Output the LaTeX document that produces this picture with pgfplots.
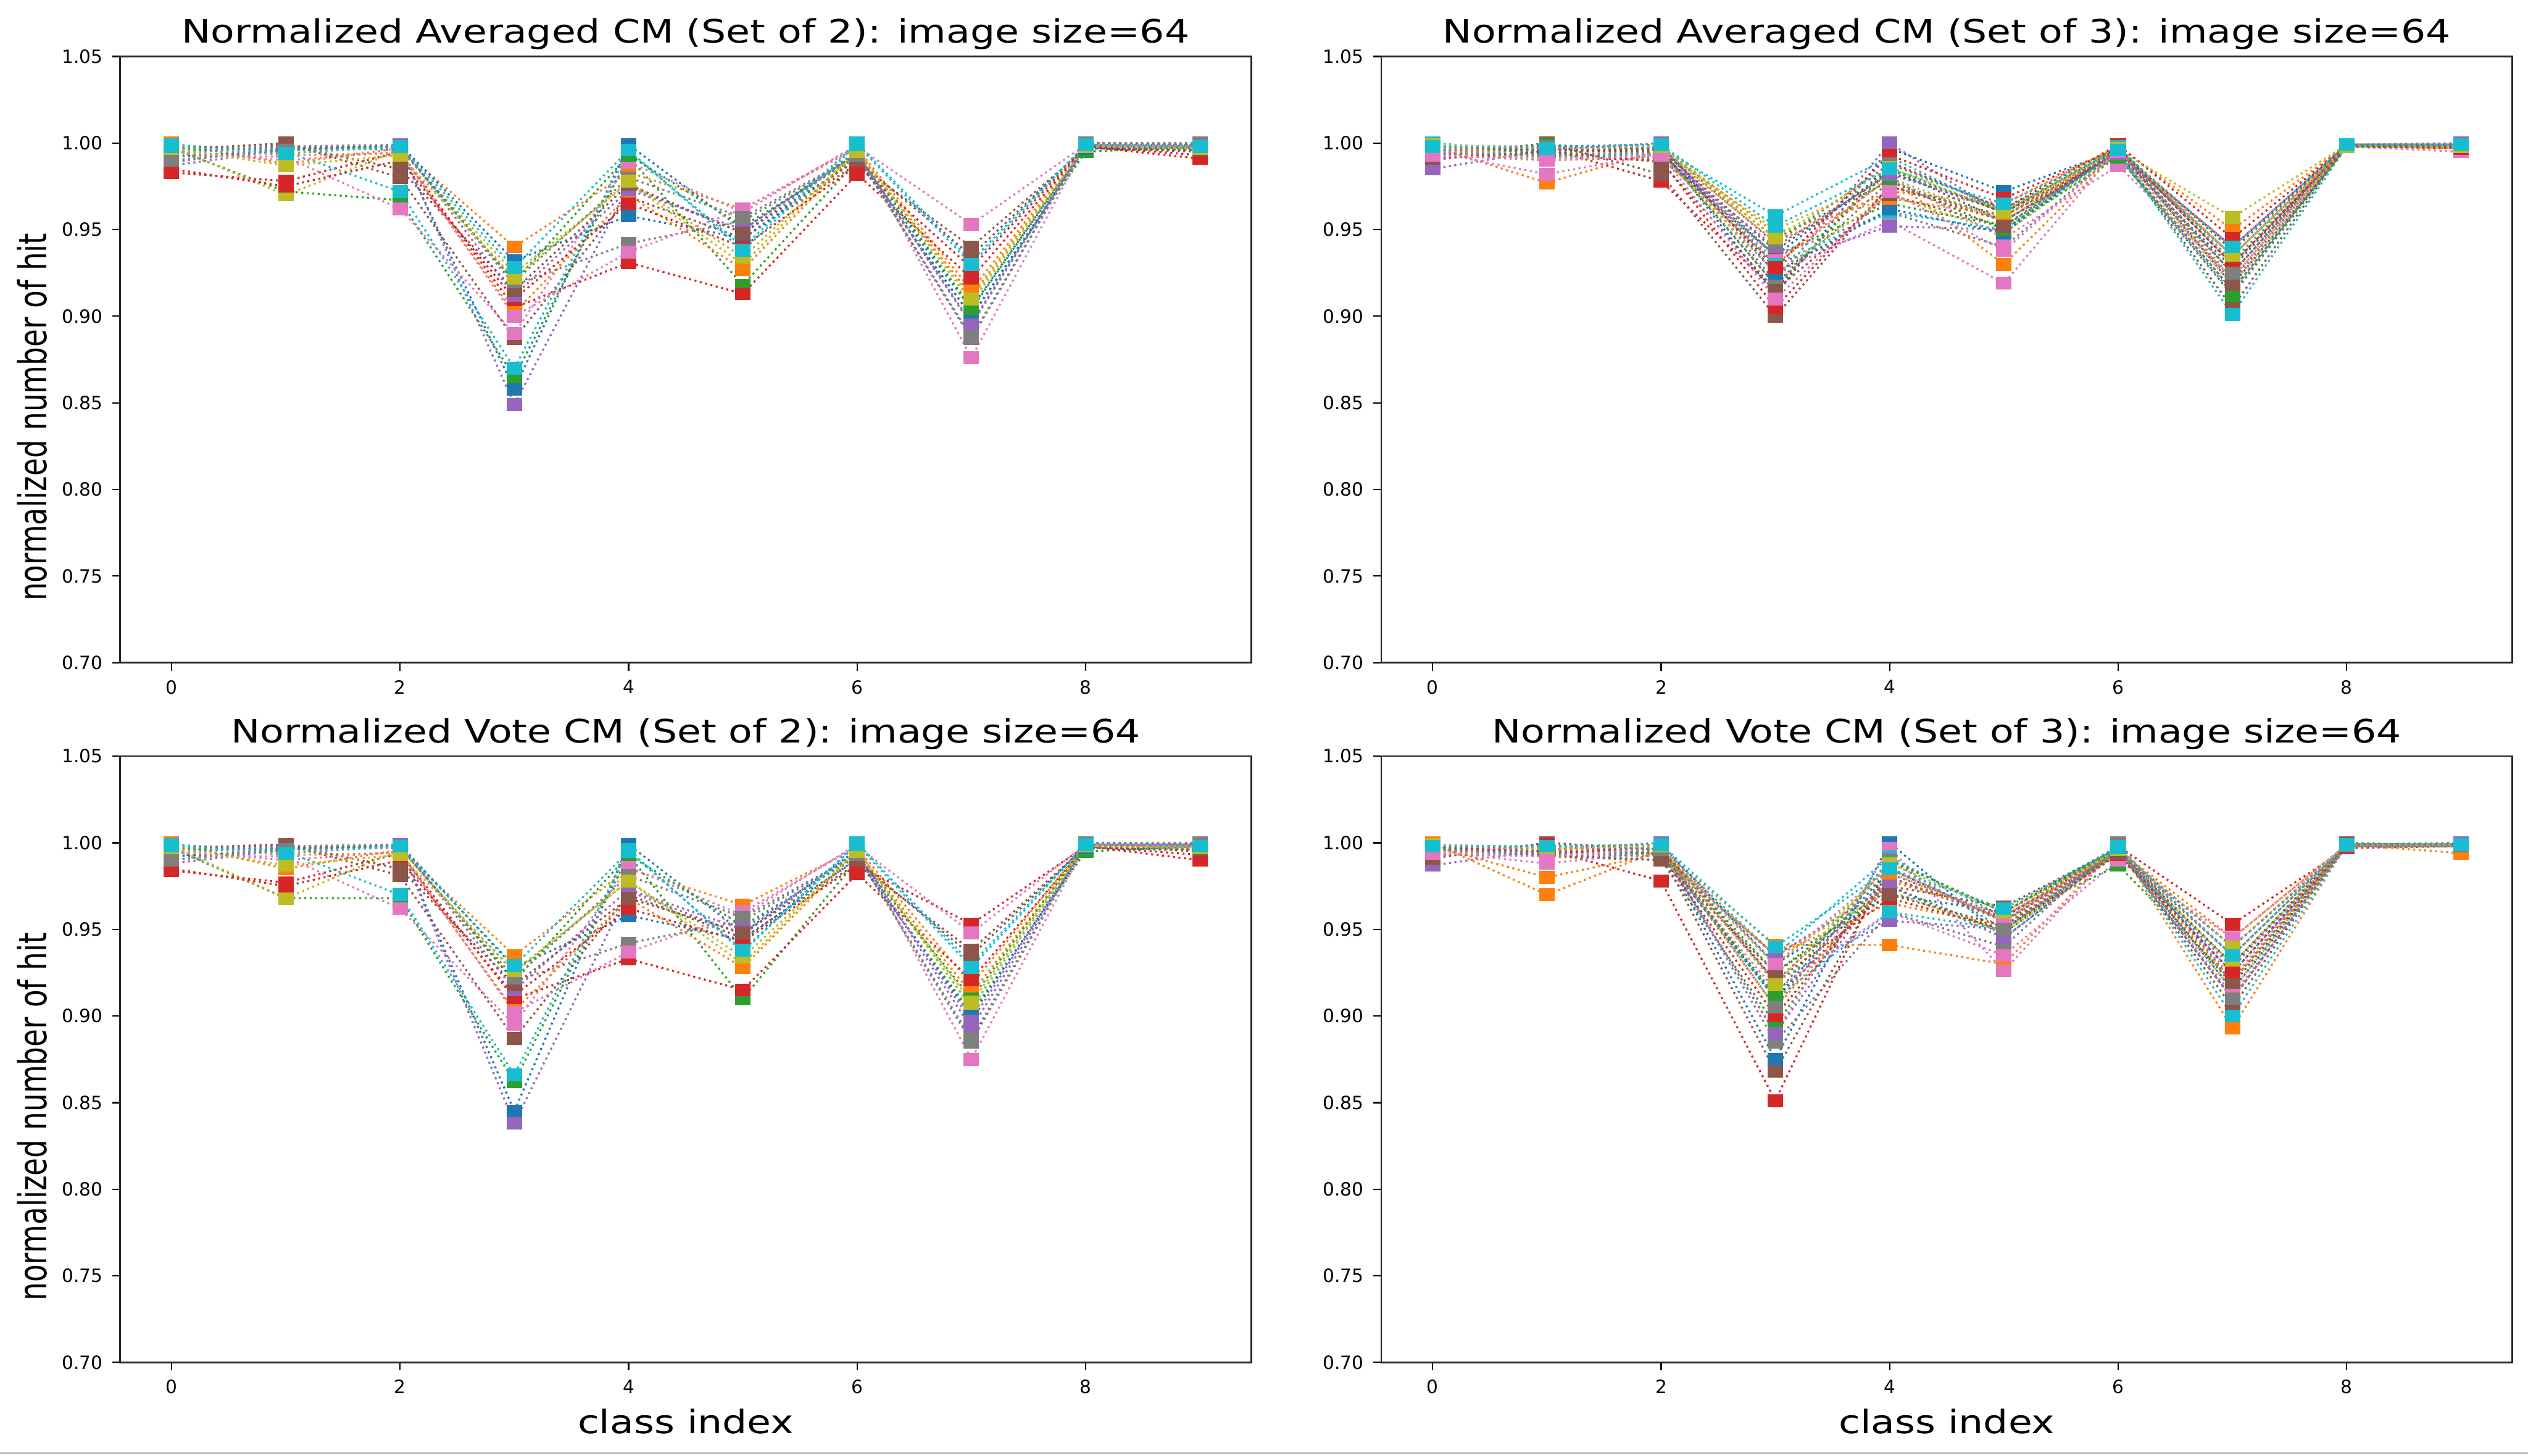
\documentclass[border=0pt]{standalone}
\usepackage{pgfplots}
\usepackage{pgfplotstable}
\pgfplotsset{compat=1.18}
\usepackage{fontspec}
\setmainfont{DejaVu Sans}
% the figure is stretched sideways, so the text is too
\newfontfamily\hfont[FakeStretch=1.21]{DejaVu Sans}
\newfontfamily\vfont[FakeStretch=0.75]{DejaVu Sans}

\definecolor{tabblue}{HTML}{1F77B4}
\definecolor{taborange}{HTML}{FF7F0E}
\definecolor{tabgreen}{HTML}{2CA02C}
\definecolor{tabred}{HTML}{D62728}
\definecolor{tabpurple}{HTML}{9467BD}
\definecolor{tabbrown}{HTML}{8C564B}
\definecolor{tabpink}{HTML}{E377C2}
\definecolor{tabgray}{HTML}{7F7F7F}
\definecolor{tabolive}{HTML}{BCBD22}
\definecolor{tabcyan}{HTML}{17BECF}

\pgfplotscreateplotcyclelist{tabten}{
  {tabblue,mark=square*},{taborange,mark=square*},{tabgreen,mark=square*},
  {tabred,mark=square*},{tabpurple,mark=square*},{tabbrown,mark=square*},
  {tabpink,mark=square*},{tabgray,mark=square*},{tabolive,mark=square*},
  {tabcyan,mark=square*}}

% one row per run, one column per class index
\pgfplotstableread{
c0 c1 c2 c3 c4 c5 c6 c7 c8 c9
0.995 0.998 0.996 0.858 0.999 0.950 0.995 0.905 0.998 0.997
1.000 0.988 0.997 0.940 0.983 0.962 0.997 0.915 0.999 0.996
0.997 0.972 0.967 0.865 0.992 0.918 0.990 0.900 0.995 0.998
0.983 0.978 0.995 0.905 0.931 0.913 0.982 0.922 0.998 0.991
0.987 0.996 0.998 0.849 0.975 0.948 0.994 0.896 0.999 0.999
0.996 1.000 0.980 0.887 0.969 0.945 0.988 0.940 0.997 0.995
0.993 0.992 0.962 0.890 0.989 0.960 0.999 0.876 0.999 0.998
0.989 0.997 0.998 0.918 0.942 0.955 0.993 0.887 1.000 0.999
0.998 0.970 0.996 0.925 0.977 0.930 0.996 0.908 0.998 0.997
0.999 0.995 0.972 0.870 0.995 0.940 1.000 0.932 0.999 0.998
0.992 0.996 0.999 0.932 0.958 0.945 0.991 0.900 0.997 0.996
0.998 0.993 0.994 0.902 0.970 0.927 0.995 0.912 0.998 0.997
0.996 0.997 0.998 0.920 0.993 0.952 0.992 0.904 0.999 0.998
0.985 0.975 0.990 0.910 0.965 0.940 0.987 0.928 0.998 0.993
0.994 0.998 0.999 0.912 0.973 0.950 0.994 0.895 0.999 0.999
0.997 0.999 0.985 0.915 0.976 0.948 0.990 0.935 0.998 0.996
0.995 0.990 0.995 0.900 0.937 0.962 0.998 0.953 0.999 0.998
0.990 0.996 0.997 0.920 0.980 0.957 0.993 0.888 1.000 1.000
0.997 0.987 0.993 0.922 0.978 0.934 0.995 0.910 0.998 0.997
0.998 0.994 0.998 0.928 0.996 0.938 0.999 0.930 0.999 0.998
}\rawA

\pgfplotstableread{
c0 c1 c2 c3 c4 c5 c6 c7 c8 c9
0.997 0.996 0.997 0.912 0.997 0.972 0.996 0.925 0.999 0.999
0.998 0.977 0.996 0.943 0.972 0.965 0.998 0.950 0.999 0.998
0.997 0.995 0.991 0.935 0.965 0.952 0.994 0.925 0.999 0.998
0.996 0.997 0.978 0.915 0.989 0.962 0.999 0.945 0.999 0.998
0.985 0.996 1.000 0.920 1.000 0.958 0.992 0.913 0.999 1.000
0.992 1.000 0.982 0.900 0.975 0.958 0.994 0.905 0.999 0.997
0.995 0.982 0.994 0.925 0.955 0.919 0.997 0.930 0.998 0.995
0.996 0.996 0.997 0.935 0.960 0.940 0.995 0.935 0.999 0.999
0.997 0.994 0.996 0.950 0.980 0.955 0.996 0.957 0.999 0.998
1.000 0.995 0.997 0.958 0.992 0.960 0.998 0.932 0.999 0.999
0.995 0.993 0.994 0.935 0.985 0.955 0.993 0.915 0.998 0.998
0.996 0.990 0.992 0.930 0.980 0.930 0.995 0.922 0.999 0.999
0.993 0.999 0.996 0.918 0.985 0.960 0.997 0.930 0.999 0.999
0.992 0.992 0.990 0.905 0.975 0.955 0.995 0.940 0.999 0.999
0.990 0.998 0.997 0.930 0.952 0.950 0.996 0.920 0.999 0.999
0.996 0.997 0.996 0.938 0.983 0.960 0.993 0.928 0.999 0.999
0.997 0.996 0.998 0.932 0.980 0.945 0.987 0.922 0.999 0.999
0.994 0.993 0.995 0.918 0.978 0.955 0.993 0.915 0.998 0.998
0.995 0.991 0.993 0.925 0.970 0.948 0.994 0.918 0.999 0.999
0.996 0.992 0.994 0.930 0.960 0.950 0.995 0.901 0.998 0.998
0.998 0.998 0.999 0.925 0.962 0.948 0.997 0.938 0.999 0.999
0.994 0.997 0.998 0.948 0.968 0.958 0.996 0.935 0.998 0.997
0.999 0.994 0.998 0.945 0.978 0.950 0.992 0.912 0.998 0.998
0.998 0.996 0.995 0.928 0.993 0.968 0.997 0.930 0.998 0.997
0.994 0.993 0.992 0.940 0.982 0.962 0.994 0.935 0.998 0.998
0.991 0.995 0.989 0.915 0.970 0.952 0.997 0.918 0.998 0.998
0.993 0.990 0.993 0.910 0.972 0.938 0.995 0.940 0.999 0.998
0.998 0.998 0.998 0.942 0.988 0.962 0.996 0.925 0.999 0.999
0.999 0.997 0.998 0.945 0.986 0.960 0.997 0.935 0.998 0.998
0.998 0.997 0.999 0.952 0.985 0.965 0.996 0.940 0.999 0.999
}\rawB

\pgfplotstableread{
c0 c1 c2 c3 c4 c5 c6 c7 c8 c9
0.996 0.997 0.998 0.845 0.999 0.948 0.996 0.905 0.998 0.997
1.000 0.985 0.996 0.935 0.985 0.964 0.997 0.918 0.999 0.996
0.997 0.968 0.968 0.862 0.993 0.910 0.990 0.902 0.995 0.998
0.984 0.977 0.994 0.910 0.933 0.915 0.982 0.921 0.998 0.990
0.988 0.996 0.998 0.838 0.972 0.947 0.995 0.893 0.999 0.999
0.996 0.999 0.981 0.887 0.970 0.945 0.988 0.938 0.998 0.995
0.993 0.992 0.962 0.895 0.986 0.958 0.999 0.875 0.999 0.998
0.990 0.997 0.998 0.920 0.942 0.955 0.993 0.887 1.000 0.999
0.998 0.968 0.996 0.925 0.978 0.930 0.996 0.905 0.998 0.997
0.999 0.995 0.970 0.866 0.996 0.937 1.000 0.930 0.999 0.998
0.992 0.996 0.999 0.928 0.958 0.944 0.991 0.900 0.997 0.996
0.998 0.993 0.994 0.903 0.968 0.928 0.995 0.913 0.998 0.997
0.996 0.997 0.998 0.920 0.993 0.952 0.992 0.910 0.999 0.998
0.985 0.975 0.990 0.912 0.962 0.943 0.987 0.953 0.998 0.993
0.994 0.998 0.999 0.915 0.973 0.950 0.994 0.897 0.999 0.999
0.997 0.999 0.985 0.918 0.968 0.948 0.990 0.935 0.998 0.996
0.995 0.990 0.995 0.902 0.937 0.960 0.998 0.948 0.999 0.998
0.990 0.996 0.997 0.922 0.981 0.957 0.993 0.885 1.000 1.000
0.997 0.987 0.993 0.926 0.978 0.934 0.995 0.908 0.998 0.997
0.998 0.994 0.998 0.929 0.995 0.938 0.999 0.928 0.999 0.998
}\rawC

\pgfplotstableread{
c0 c1 c2 c3 c4 c5 c6 c7 c8 c9
0.997 0.998 0.997 0.875 1.000 0.945 0.996 0.940 0.999 0.999
1.000 0.970 0.996 0.941 0.941 0.930 0.998 0.893 0.999 0.994
0.998 0.992 0.990 0.895 0.985 0.955 0.987 0.920 0.999 0.999
0.996 0.996 0.978 0.851 0.990 0.960 0.998 0.953 0.997 0.998
0.987 0.996 1.000 0.920 0.955 0.950 0.996 0.910 0.999 1.000
0.991 1.000 0.996 0.910 0.975 0.963 0.997 0.905 1.000 0.998
0.995 0.988 0.995 0.890 0.997 0.926 0.998 0.922 0.999 0.998
0.996 0.997 0.998 0.885 0.960 0.940 1.000 0.920 0.999 0.999
0.997 0.995 0.996 0.929 0.983 0.955 0.997 0.915 0.999 0.999
0.999 0.996 0.997 0.935 0.992 0.957 0.998 0.900 0.999 0.999
0.995 0.995 0.993 0.910 0.985 0.955 0.994 0.925 0.999 0.999
0.998 0.980 0.994 0.935 0.965 0.952 0.996 0.945 0.999 0.998
0.995 0.997 0.996 0.925 0.975 0.948 0.994 0.930 0.998 0.998
0.994 0.999 0.993 0.900 0.980 0.957 0.996 0.935 0.999 0.999
0.993 0.998 0.996 0.890 0.982 0.958 0.993 0.928 0.999 0.999
0.995 0.998 0.994 0.868 0.985 0.955 0.995 0.930 0.999 0.999
0.997 0.996 0.993 0.915 0.960 0.935 0.990 0.945 0.999 0.999
0.993 0.995 0.995 0.920 0.980 0.955 0.994 0.935 0.999 0.999
0.995 0.992 0.993 0.935 0.972 0.948 0.994 0.930 0.998 0.998
0.996 0.993 0.994 0.910 0.960 0.950 0.995 0.925 0.998 0.998
0.999 0.997 0.999 0.930 0.970 0.960 0.997 0.915 0.998 0.998
0.996 0.996 0.998 0.905 0.978 0.958 0.995 0.920 0.998 0.998
0.997 0.995 0.994 0.912 0.990 0.960 0.996 0.910 0.999 0.999
0.998 0.994 0.997 0.920 0.968 0.950 0.993 0.925 0.998 0.998
0.996 0.994 0.992 0.935 0.975 0.945 0.995 0.940 0.998 0.998
0.993 0.993 0.990 0.925 0.970 0.952 0.994 0.918 0.998 0.998
0.994 0.992 0.997 0.930 0.985 0.955 0.996 0.912 0.998 0.998
0.998 0.998 0.996 0.905 0.990 0.950 0.996 0.910 0.998 0.998
0.999 0.997 0.998 0.918 0.988 0.960 0.996 0.940 0.999 0.999
0.998 0.998 0.999 0.940 0.985 0.962 0.997 0.935 0.999 0.999
}\rawD

\pgfplotstabletranspose\tabA\rawA
\pgfplotstabletranspose\tabB\rawB
\pgfplotstabletranspose\tabC\rawC
\pgfplotstabletranspose\tabD\rawD

\pgfplotsset{
  every axis title shift=0pt,
  cm/.style={
    scale only axis, width=421pt, height=225.6pt, anchor=south west,
    xmin=-0.45, xmax=9.45, ymin=0.70, ymax=1.05,
    xtick={0,2,4,6,8},
    ytick={0.70,0.75,0.80,0.85,0.90,0.95,1.00,1.05},
    yticklabel style={/pgf/number format/.cd, fixed, fixed zerofill, precision=2},
    /pgf/number format/assume math mode=true,
    tick label style={font=\fontsize{6.8}{7}\selectfont},
    tick align=outside, xtick pos=left, ytick pos=left,
    major tick length=3pt,
    every tick/.style={black, line width=0.5pt},
    axis line style={line width=0.6pt, black!85},
    title style={font=\hfont\fontsize{12}{13}\selectfont, at={(0.5,1)}, anchor=base, inner sep=0pt, yshift=5pt},
    ylabel style={font=\vfont\fontsize{14.4}{16}\selectfont, at={(axis description cs:-0.0777,0.405)}, anchor=center, rotate=0},
    xlabel style={font=\hfont\fontsize{12}{13}\selectfont, at={(axis description cs:0.5,-0.0975)}, anchor=center},
    cycle list name=tabten,
    every axis plot/.append style={line width=0.75pt, dash pattern=on 0.75pt off 1.3pt,
      mark size=2pt, mark options={solid, xscale=1.25}},
  }
}

\begin{document}
\begin{tikzpicture}
\useasboundingbox (0,0) rectangle (940.8pt,541.8pt);
\draw[black!25, line width=0.9pt] (0,1pt) -- (940.8pt,1pt);

\begin{axis}[cm, at={(44.7pt,295.2pt)},
  title={Normalized Averaged CM (Set of 2): image size=64},
  ylabel={normalized number of hit}]
\pgfplotsinvokeforeach{1,...,20}{\addplot table[x expr=\coordindex, y index=#1]{\tabA};}
\end{axis}

\begin{axis}[cm, at={(514pt,295.2pt)},
  title={Normalized Averaged CM (Set of 3): image size=64}]
\pgfplotsinvokeforeach{1,...,30}{\addplot table[x expr=\coordindex, y index=#1]{\tabB};}
\end{axis}

\begin{axis}[cm, at={(44.7pt,34.8pt)},
  title={Normalized Vote CM (Set of 2): image size=64},
  ylabel={normalized number of hit}, xlabel={class index}]
\pgfplotsinvokeforeach{1,...,20}{\addplot table[x expr=\coordindex, y index=#1]{\tabC};}
\end{axis}

\begin{axis}[cm, at={(514pt,34.8pt)},
  title={Normalized Vote CM (Set of 3): image size=64},
  xlabel={class index}]
\pgfplotsinvokeforeach{1,...,30}{\addplot table[x expr=\coordindex, y index=#1]{\tabD};}
\end{axis}
\end{tikzpicture}
\end{document}
